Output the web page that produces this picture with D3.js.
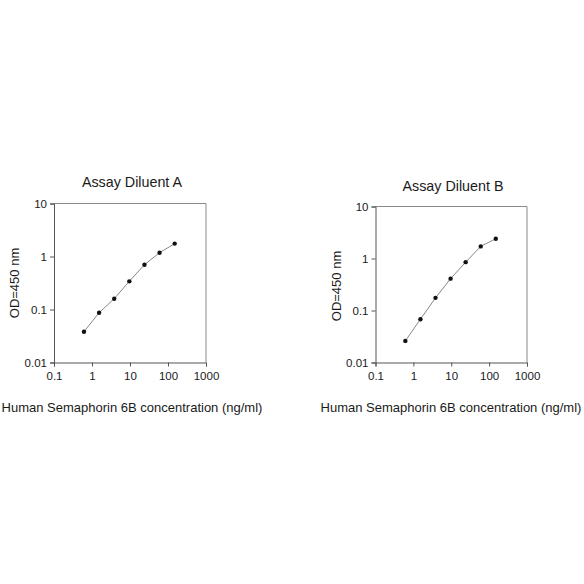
<!DOCTYPE html>
<html><head><meta charset="utf-8">
<script src="https://cdn.jsdelivr.net/npm/d3@7"></script>
<style>body{margin:0;background:#fff}svg{display:block}text{font-family:Arial,"Liberation Sans",sans-serif;fill:#1a1a1a}</style>
</head><body>
<script>
const concentrations = [0.614, 1.536, 3.84, 9.6, 24, 60, 150];
const odDiluentA = [0.038, 0.087, 0.16, 0.34, 0.70, 1.18, 1.75];
const odDiluentB = [0.026, 0.068, 0.175, 0.41, 0.85, 1.71, 2.40];
const xTicks = [0.1, 1, 10, 100, 1000];
const yTicks = [0.01, 0.1, 1, 10];
const titles = ["Assay Diluent A", "Assay Diluent B"];
const xLabel = "Human Semaphorin 6B concentration (ng/ml)";
const yLabel = "OD=450 nm";

const svg = d3.select("body").append("svg").attr("width",584).attr("height",584);
svg.append("rect").attr("width",584).attr("height",584).attr("fill","#fff");

const panels = [
  {vals: odDiluentA, x0:54, x1:206, y0:203.5, y1:362.5, title:titles[0], tx:132, ty:187, ylx:19, yly:283, xlx:132, xly:412},
  {vals: odDiluentB, x0:375.5, x1:527, y0:206.5, y1:362.5, title:titles[1], tx:453, ty:191, ylx:341, yly:286, xlx:451, xly:412}
];

panels.forEach(p => {
  const x = d3.scaleLog().domain([0.1,1000]).range([p.x0,p.x1]);
  const y = d3.scaleLog().domain([0.01,10]).range([p.y1,p.y0]);
  const g = svg.append("g");
  g.append("path").attr("d",`M${p.x0},${p.y0}H${p.x1}V${p.y1}`).attr("fill","none").attr("stroke","#8a8a8a").attr("stroke-width",1);
  const xa = g.append("g").attr("transform",`translate(0,${p.y1})`)
    .call(d3.axisBottom(x).tickValues(xTicks).tickFormat(d=>String(d)).tickSize(4).tickPadding(5));
  const ya = g.append("g").attr("transform",`translate(${p.x0},0)`)
    .call(d3.axisLeft(y).tickValues(yTicks).tickFormat(d=>String(d)).tickSize(4).tickPadding(3));
  [xa,ya].forEach(a=>{
    a.selectAll("path,line").attr("stroke","#555");
    a.selectAll("text").attr("font-size",11.5).attr("fill","#1a1a1a").style("font-family","Arial, 'Liberation Sans', sans-serif");
  });
  const line = d3.line().x((d,i)=>x(concentrations[i])).y(d=>y(d));
  g.append("path").datum(p.vals).attr("d",line).attr("fill","none").attr("stroke","#888").attr("stroke-width",1);
  g.selectAll("circle").data(p.vals).join("circle")
    .attr("cx",(d,i)=>x(concentrations[i])).attr("cy",d=>y(d)).attr("r",2.2).attr("fill","#111");
  g.append("text").attr("x",p.tx).attr("y",p.ty).attr("text-anchor","middle").attr("font-size",14.3).text(p.title);
  g.append("text").attr("transform",`translate(${p.ylx},${p.yly}) rotate(-90)`).attr("text-anchor","middle").attr("font-size",13).text(yLabel);
  g.append("text").attr("x",p.xlx).attr("y",p.xly).attr("text-anchor","middle").attr("font-size",13).text(xLabel);
});
</script>
</body></html>
